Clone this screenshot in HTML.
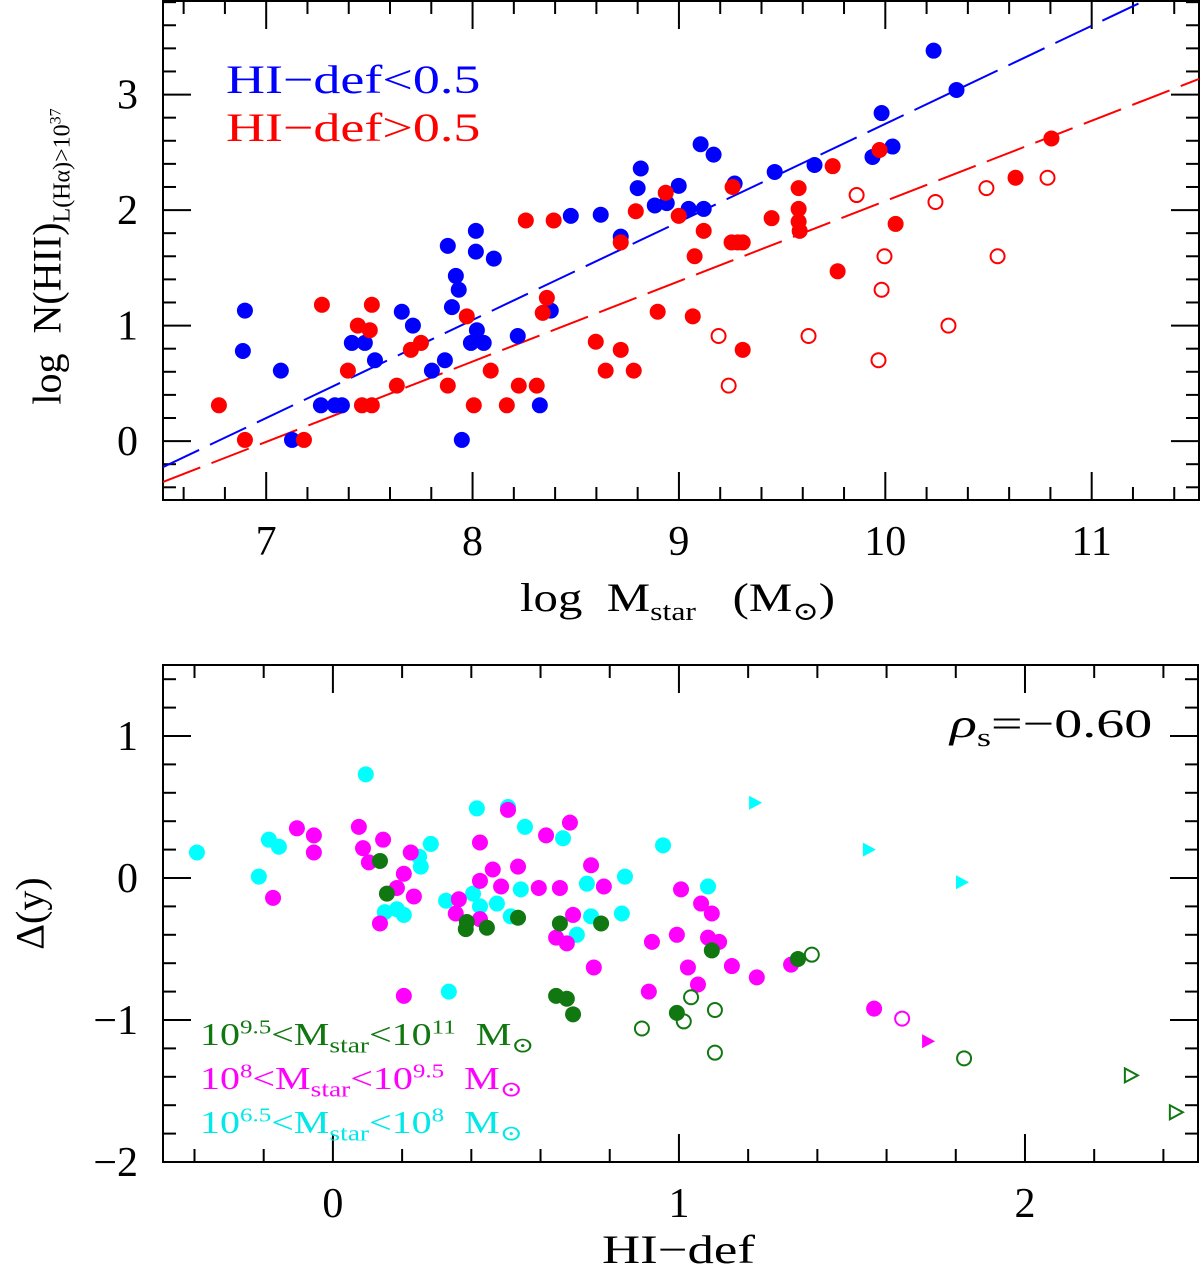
<!DOCTYPE html>
<html><head><meta charset="utf-8"><style>
body{margin:0;background:#fff;}
svg{display:block;font-family:"Liberation Serif","DejaVu Serif",serif;}
.sx{display:inline-block;transform-origin:left center;}
</style></head><body>
<svg id="chart" width="1200" height="1280" viewBox="0 0 1200 1280" xmlns="http://www.w3.org/2000/svg"></svg>
<script>
// ---------- TOP PANEL DATA ----------
const blueX=[6.897,6.887,7.071,7.125,7.265,7.333,7.367,7.415,7.478,7.527,7.657,7.711,7.803,7.866,7.880,7.900,7.919,7.933,7.948,7.992,8.016,8.016,8.021,8.054,8.103,8.219,8.326,8.379,8.476,8.621,8.718,8.800,8.815,8.883,8.941,8.999,9.047,9.105,9.120,9.168,9.270,9.464,9.657,9.938,9.982,10.035,10.234,10.345];
const blueY=[1.13,0.78,0.61,0.01,0.31,0.31,0.31,0.85,0.85,0.70,1.12,1.00,0.61,0.70,1.69,1.16,1.43,1.31,0.01,0.85,1.82,1.64,0.96,0.85,1.58,0.91,0.31,1.13,1.95,1.96,1.77,2.19,2.36,2.04,2.06,2.21,2.01,2.57,2.01,2.48,2.23,2.33,2.39,2.46,2.84,2.55,3.38,3.04];
const redX=[6.771,6.897,7.183,7.270,7.396,7.444,7.464,7.502,7.512,7.512,7.633,7.701,7.750,7.880,7.972,8.006,8.088,8.166,8.224,8.258,8.311,8.340,8.360,8.393,8.597,8.645,8.718,8.718,8.781,8.791,8.897,8.936,8.999,9.067,9.076,9.120,9.255,9.260,9.285,9.309,9.309,9.449,9.580,9.580,9.580,9.585,9.769,9.745,9.972,10.050,10.631,10.805];
const redY=[0.31,0.01,0.01,1.18,0.61,1.00,0.31,0.96,0.31,1.18,0.48,0.79,0.85,0.48,1.08,0.31,0.61,0.31,0.48,1.91,0.48,1.11,1.24,1.91,0.86,0.61,0.79,1.72,0.61,1.99,1.12,2.15,1.95,1.08,1.60,1.82,1.72,2.20,1.72,1.72,0.79,1.93,2.19,2.01,1.90,1.82,1.47,2.38,2.52,1.88,2.28,2.62];
const redOpenX=[9.192,9.241,9.628,9.861,9.967,9.982,9.996,10.243,10.306,10.490,10.544,10.786];
const redOpenY=[0.91,0.48,0.91,2.13,0.70,1.31,1.60,2.07,1.00,2.19,1.60,2.28];
const blueFit=[0.849,-0.225]; // slope, value at x=6.5
const redFit=[0.695,-0.354];
const topXTicks=[7,8,9,10,11];
const topYTicks=[0,1,2,3];

// ---------- BOTTOM PANEL DATA ----------
const cyanX=[-0.393,-0.185,-0.156,-0.214,0.095,0.283,0.249,0.254,0.150,0.185,0.205,0.416,0.506,0.555,0.665,0.327,0.405,0.425,0.474,0.543,0.514,0.734,0.844,0.835,0.746,0.705,0.335,0.954,1.084];
const cyanY=[0.18,0.27,0.22,0.01,0.73,0.24,0.15,0.08,-0.24,-0.22,-0.26,0.49,0.50,0.36,0.28,-0.16,-0.11,-0.20,-0.18,-0.08,-0.27,-0.04,0.01,-0.25,-0.27,-0.40,-0.80,0.23,-0.06];
const cyanTriX=[1.220,1.549,1.818];
const cyanTriY=[0.53,0.20,-0.03];
const magX=[-0.104,-0.055,-0.055,-0.173,0.075,0.087,0.145,0.104,0.225,0.205,0.185,0.234,0.136,0.506,0.616,0.685,0.425,0.462,0.535,0.425,0.486,0.595,0.656,0.746,0.783,0.364,0.355,0.425,0.694,0.645,0.676,0.754,0.205,0.922,0.913,1.006,1.064,1.095,0.994,1.084,1.116,1.026,1.055,1.153,1.225,1.324,1.564];
const magY=[0.35,0.30,0.18,-0.14,0.36,0.21,0.27,0.11,0.18,0.03,-0.07,-0.13,-0.32,0.48,0.30,0.39,0.25,0.06,0.08,-0.02,-0.06,-0.07,-0.07,0.09,-0.06,-0.15,-0.25,-0.29,-0.26,-0.42,-0.46,-0.63,-0.83,-0.45,-0.80,-0.08,-0.18,-0.25,-0.40,-0.42,-0.45,-0.63,-0.75,-0.62,-0.70,-0.61,-0.92];
const magOpenX=[1.645];
const magOpenY=[-0.99];
const magTriX=[1.720];
const magTriY=[-1.15];
const grnX=[0.136,0.156,0.387,0.384,0.445,0.535,0.656,0.775,0.645,0.676,0.694,1.095,0.994,1.344];
const grnY=[0.12,-0.11,-0.31,-0.36,-0.35,-0.28,-0.32,-0.32,-0.83,-0.85,-0.96,-0.51,-0.95,-0.57];
const grnOpenX=[1.384,1.035,1.104,1.014,0.893,1.104,1.824];
const grnOpenY=[-0.54,-0.84,-0.93,-1.01,-1.06,-1.23,-1.27];
const grnTriX=[2.306,2.436];
const grnTriY=[-1.39,-1.65];
const botXTicks=[0,1,2];
const botYTicks=[-2,-1,0,1];

const NS="http://www.w3.org/2000/svg";
const svg=document.getElementById('chart');
function mk(tag,attrs,parent){const e=document.createElementNS(NS,tag);for(const k in attrs)e.setAttribute(k,attrs[k]);(parent||svg).appendChild(e);return e;}

const T={L:163,R:1199,Tp:1,B:500,x0:6.5,x1:11.52,y0:-0.51,y1:3.81};
const Bt={L:163,R:1198,Tp:665,B:1162,x0:-0.491,x1:2.5,y0:-2,y1:1.5};
function sx(P,v){return P.L+(v-P.x0)/(P.x1-P.x0)*(P.R-P.L);}
function sy(P,v){return P.B-(v-P.y0)/(P.y1-P.y0)*(P.B-P.Tp);}

function frame(P,name,xt,yt,minor){
  const g=mk('g',{});
  
  
  mk('rect',{x:P.L,y:P.Tp,width:P.R-P.L,height:P.B-P.Tp,fill:'none',stroke:'#000','stroke-width':2},g);
  for(let v=Math.ceil(P.x0/minor-1e-6)*minor;v<=P.x1+1e-9;v+=minor){
    const isMaj=Math.abs(v-Math.round(v))<1e-6;const L=isMaj?28:13;const X=sx(P,v);
    mk('line',{x1:X,x2:X,y1:P.B,y2:P.B-L,stroke:'#000','stroke-width':2},g);
    mk('line',{x1:X,x2:X,y1:P.Tp,y2:P.Tp+L,stroke:'#000','stroke-width':2},g);
  }
  for(let v=Math.ceil(P.y0/minor-1e-6)*minor;v<=P.y1+1e-9;v+=minor){
    const isMaj=Math.abs(v-Math.round(v))<1e-6;const L=isMaj?28:13;const Y=sy(P,v);
    mk('line',{x1:P.L,x2:P.L+L,y1:Y,y2:Y,stroke:'#000','stroke-width':2},g);
    mk('line',{x1:P.R,x2:P.R-L,y1:Y,y2:Y,stroke:'#000','stroke-width':2},g);
  }
  xt.forEach(v=>{const t=mk('text',{x:sx(P,v),y:P.B+55,'text-anchor':'middle','font-size':42},g);t.textContent=v<0?'\u2212'+(-v):v;
    });
  yt.forEach(v=>{const t=mk('text',{x:P.L-25,y:sy(P,v)+14,'text-anchor':'end','font-size':42},g);t.textContent=v<0?'\u2212'+(-v):v;
    });
}
frame(T,'top-panel',topXTicks,topYTicks,0.2);
frame(Bt,'bottom-panel',botXTicks,botYTicks,0.2);

mk('defs',{}).innerHTML='<clipPath id="ct"><rect x="163" y="1" width="1036" height="499"/></clipPath><clipPath id="cb"><rect x="163" y="665" width="1035" height="497"/></clipPath>';

function fit(f,color,name){
  const xa=T.x0,xb=T.x1;
  const l=mk('line',{x1:sx(T,xa),y1:sy(T,f[1]),x2:sx(T,xb),y2:sy(T,f[1]+f[0]*(xb-xa)),stroke:color,'stroke-width':2,'stroke-dasharray':'40 12','clip-path':'url(#ct)'});
  
}
fit(blueFit,'#0000ff','blue-fit-line');
fit(redFit,'#ff0000','red-fit-line');

function dots(P,xs,ys,color,open,name,r,clip){
  const g=mk('g',{'clip-path':clip});
  
  xs.forEach((v,i)=>{const c=mk('circle',{cx:sx(P,v),cy:sy(P,ys[i]),r:open?r-1:r,fill:open?'none':color,stroke:open?color:'none','stroke-width':2},g);
    });
}
function tris(P,xs,ys,color,open,name){
  const g=mk('g',{'clip-path':'url(#cb)'});
  
  xs.forEach((v,i)=>{const X=sx(P,v),Y=sy(P,ys[i]);
    const p=mk('polygon',{points:`${X-6},${Y-7} ${X+7},${Y} ${X-6},${Y+7}`,fill:open?'none':color,stroke:open?color:'none','stroke-width':2},g);
    });
}
dots(T,blueX,blueY,'#0000ff',false,'blue-series',8,'url(#ct)');
dots(T,redX,redY,'#ff0000',false,'red-series',8,'url(#ct)');
dots(T,redOpenX,redOpenY,'#ff0000',true,'red-open-series',8,'url(#ct)');

dots(Bt,cyanX,cyanY,'#00ffff',false,'cyan-series',8,'url(#cb)');
dots(Bt,magX,magY,'#ff00ff',false,'magenta-series',8,'url(#cb)');
dots(Bt,grnX,grnY,'#117711',false,'green-series',8,'url(#cb)');
dots(Bt,magOpenX,magOpenY,'#ff00ff',true,'magenta-open-series',8,'url(#cb)');
dots(Bt,grnOpenX,grnOpenY,'#117711',true,'green-open-series',8,'url(#cb)');
tris(Bt,cyanTriX,cyanTriY,'#00ffff',false,'cyan-limits');
tris(Bt,magTriX,magTriY,'#ff00ff',false,'magenta-limits');
tris(Bt,grnTriX,grnTriY,'#117711',true,'green-limits');
</script>
<div style="position:absolute;left:0;top:0;width:1200px;height:1280px;pointer-events:none;font-family:'Liberation Serif','DejaVu Serif',serif;">
  <div style="position:absolute;left:226px;top:56px;font-size:40px;color:#0000ff;white-space:nowrap;"><span class="sx" style="transform:scaleX(1.35)">HI−def&lt;0.5</span></div>
  <div style="position:absolute;left:226px;top:104px;font-size:40px;color:#ff0000;white-space:nowrap;"><span class="sx" style="transform:scaleX(1.35)">HI−def&gt;0.5</span></div>
  <div style="position:absolute;left:520px;top:574px;font-size:40px;white-space:nowrap;"><span class="sx" style="transform:scaleX(1.22)">log&nbsp; M<sub style="font-size:26px">star</sub>&nbsp;&nbsp; (M<sub style="font-size:26px">⊙</sub>)</span></div>
  <div style="position:absolute;left:-120px;top:230px;width:340px;font-size:40px;white-space:nowrap;transform:rotate(-90deg);transform-origin:center;text-align:center;">log&nbsp; N(HII)<sub style="font-size:24px">L(Hα)&gt;10<sup style="font-size:16px">37</sup></sub></div>
  <div style="position:absolute;left:950px;top:700px;font-size:40px;white-space:nowrap;"><span class="sx" style="transform:scaleX(1.4)"><i>ρ</i><sub style="font-size:26px">s</sub>=−0.60</span></div>
  <div style="position:absolute;left:200px;top:1016px;font-size:32px;color:#117711;white-space:nowrap;"><span class="sx" style="transform:scaleX(1.25)">10<sup style="font-size:20px">9.5</sup>&lt;M<sub style="font-size:22px">star</sub>&lt;10<sup style="font-size:20px">11</sup>&nbsp; M<sub style="font-size:22px">⊙</sub></span></div>
  <div style="position:absolute;left:200px;top:1060px;font-size:32px;color:#ff00ff;white-space:nowrap;"><span class="sx" style="transform:scaleX(1.25)">10<sup style="font-size:20px">8</sup>&lt;M<sub style="font-size:22px">star</sub>&lt;10<sup style="font-size:20px">9.5</sup>&nbsp; M<sub style="font-size:22px">⊙</sub></span></div>
  <div style="position:absolute;left:200px;top:1104px;font-size:32px;color:#00e8e8;white-space:nowrap;"><span class="sx" style="transform:scaleX(1.25)">10<sup style="font-size:20px">6.5</sup>&lt;M<sub style="font-size:22px">star</sub>&lt;10<sup style="font-size:20px">8</sup>&nbsp; M<sub style="font-size:22px">⊙</sub></span></div>
  <div style="position:absolute;left:602px;top:1226px;font-size:40px;white-space:nowrap;"><span class="sx" style="transform:scaleX(1.32)">HI−def</span></div>
  <div style="position:absolute;left:-30px;top:890px;width:120px;font-size:40px;white-space:nowrap;transform:rotate(-90deg);transform-origin:center;text-align:center;">Δ(y)</div>
</div>
</body></html>
